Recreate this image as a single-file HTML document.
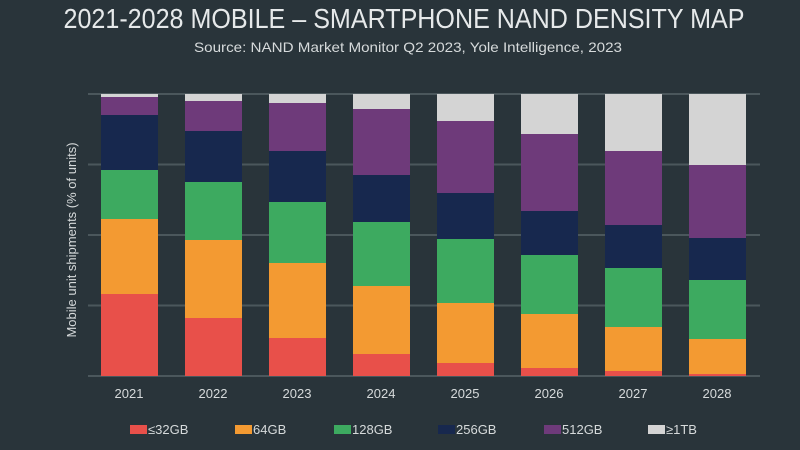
<!DOCTYPE html>
<html><head><meta charset="utf-8"><style>
html,body{margin:0;padding:0;background:#29343a;}
svg{display:block;font-family:"Liberation Sans",sans-serif;}
</style></head><body>
<svg width="800" height="450" viewBox="0 0 800 450" xmlns="http://www.w3.org/2000/svg">
<rect width="800" height="450" fill="#29343a"/>
<text x="404" y="28" fill="#e6e9ea" font-size="28" text-anchor="middle" textLength="681" lengthAdjust="spacingAndGlyphs">2021-2028 MOBILE – SMARTPHONE NAND DENSITY MAP</text>
<text x="408" y="52" fill="#d6dadb" font-size="14" text-anchor="middle" textLength="428" lengthAdjust="spacingAndGlyphs">Source: NAND Market Monitor Q2 2023, Yole Intelligence, 2023</text>
<g stroke="#4b575c" stroke-width="2">
<line x1="88" y1="94" x2="760" y2="94"/>
<line x1="88" y1="164.5" x2="760" y2="164.5"/>
<line x1="88" y1="235" x2="760" y2="235"/>
<line x1="88" y1="305.5" x2="760" y2="305.5"/>
<line x1="88" y1="376" x2="760" y2="376"/>
</g>
<text transform="translate(76,240) rotate(-90)" fill="#d6dadb" font-size="13" text-anchor="middle">Mobile unit shipments (% of units)</text>
<g id="bars"></g>
<g fill="#d6dadb" font-size="13" text-anchor="middle">
<text x="129" y="398">2021</text><text x="213" y="398">2022</text><text x="297" y="398">2023</text><text x="381" y="398">2024</text>
<text x="465" y="398">2025</text><text x="549" y="398">2026</text><text x="633" y="398">2027</text><text x="717" y="398">2028</text>
</g>
<g font-size="13" fill="#d6dadb">
<rect x="130" y="425" width="17" height="9" fill="#e8504a"/><text x="148" y="434">≤32GB</text>
<rect x="235" y="425" width="17" height="9" fill="#f39a32"/><text x="253" y="434">64GB</text>
<rect x="334" y="425" width="17" height="9" fill="#3daa60"/><text x="352" y="434">128GB</text>
<rect x="438" y="425" width="17" height="9" fill="#17284e"/><text x="456" y="434">256GB</text>
<rect x="544" y="425" width="17" height="9" fill="#6e3a7a"/><text x="562" y="434">512GB</text>
<rect x="648" y="425" width="17" height="9" fill="#d4d4d4"/><text x="666" y="434">≥1TB</text>
</g>
<g>
<!-- 2021 --><rect x="101" y="94" width="57" height="3" fill="#d4d4d4"/><rect x="101" y="97" width="57" height="18" fill="#6e3a7a"/><rect x="101" y="115" width="57" height="55" fill="#17284e"/><rect x="101" y="170" width="57" height="49" fill="#3daa60"/><rect x="101" y="219" width="57" height="75" fill="#f39a32"/><rect x="101" y="294" width="57" height="82" fill="#e8504a"/>
<!-- 2022 --><rect x="185" y="94" width="57" height="7" fill="#d4d4d4"/><rect x="185" y="101" width="57" height="30" fill="#6e3a7a"/><rect x="185" y="131" width="57" height="51" fill="#17284e"/><rect x="185" y="182" width="57" height="58" fill="#3daa60"/><rect x="185" y="240" width="57" height="78" fill="#f39a32"/><rect x="185" y="318" width="57" height="58" fill="#e8504a"/>
<!-- 2023 --><rect x="269" y="94" width="57" height="9" fill="#d4d4d4"/><rect x="269" y="103" width="57" height="48" fill="#6e3a7a"/><rect x="269" y="151" width="57" height="51" fill="#17284e"/><rect x="269" y="202" width="57" height="61" fill="#3daa60"/><rect x="269" y="263" width="57" height="75" fill="#f39a32"/><rect x="269" y="338" width="57" height="38" fill="#e8504a"/>
<!-- 2024 --><rect x="353" y="94" width="57" height="15" fill="#d4d4d4"/><rect x="353" y="109" width="57" height="66" fill="#6e3a7a"/><rect x="353" y="175" width="57" height="47" fill="#17284e"/><rect x="353" y="222" width="57" height="64" fill="#3daa60"/><rect x="353" y="286" width="57" height="68" fill="#f39a32"/><rect x="353" y="354" width="57" height="22" fill="#e8504a"/>
<!-- 2025 --><rect x="437" y="94" width="57" height="27" fill="#d4d4d4"/><rect x="437" y="121" width="57" height="72" fill="#6e3a7a"/><rect x="437" y="193" width="57" height="46" fill="#17284e"/><rect x="437" y="239" width="57" height="64" fill="#3daa60"/><rect x="437" y="303" width="57" height="60" fill="#f39a32"/><rect x="437" y="363" width="57" height="13" fill="#e8504a"/>
<!-- 2026 --><rect x="521" y="94" width="57" height="40" fill="#d4d4d4"/><rect x="521" y="134" width="57" height="77" fill="#6e3a7a"/><rect x="521" y="211" width="57" height="44" fill="#17284e"/><rect x="521" y="255" width="57" height="59" fill="#3daa60"/><rect x="521" y="314" width="57" height="54" fill="#f39a32"/><rect x="521" y="368" width="57" height="8" fill="#e8504a"/>
<!-- 2027 --><rect x="605" y="94" width="57" height="57" fill="#d4d4d4"/><rect x="605" y="151" width="57" height="74" fill="#6e3a7a"/><rect x="605" y="225" width="57" height="43" fill="#17284e"/><rect x="605" y="268" width="57" height="59" fill="#3daa60"/><rect x="605" y="327" width="57" height="44" fill="#f39a32"/><rect x="605" y="371" width="57" height="5" fill="#e8504a"/>
<!-- 2028 --><rect x="689" y="94" width="57" height="71" fill="#d4d4d4"/><rect x="689" y="165" width="57" height="73" fill="#6e3a7a"/><rect x="689" y="238" width="57" height="42" fill="#17284e"/><rect x="689" y="280" width="57" height="59" fill="#3daa60"/><rect x="689" y="339" width="57" height="35" fill="#f39a32"/><rect x="689" y="374" width="57" height="2" fill="#e8504a"/>
</g>
</svg>
</body></html>
